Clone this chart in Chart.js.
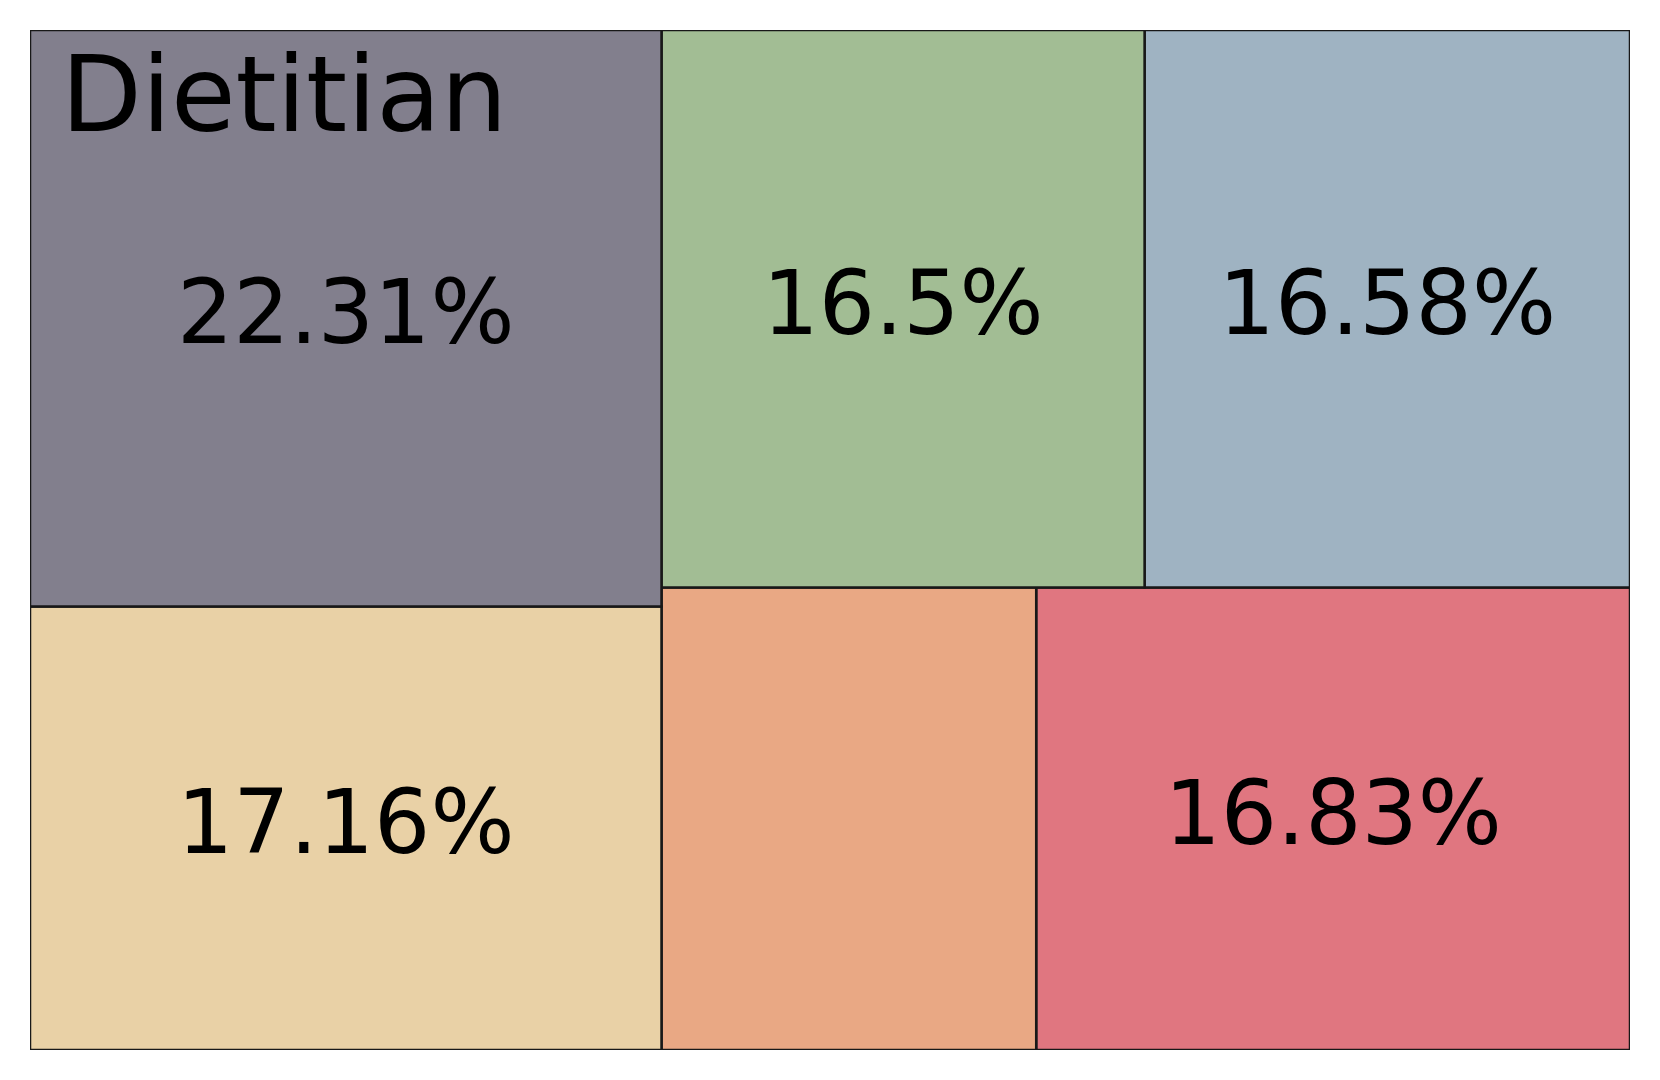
<!DOCTYPE html>
<html>
<head>
<meta charset="utf-8">
<script src="https://cdn.jsdelivr.net/npm/chart.js@4"></script>
<style>
  body { margin: 0; background: #fff; }
</style>
</head>
<body>
<canvas id="myChart" width="1660" height="1080"></canvas>
<script>
// cell data, in the order the treemap lays them out
const names = ['Dietitian', '', '', '', '', ''];
const shares = [22.31, 17.16, 16.5, 16.58, 10.62, 16.83];
const valueLabels = ['22.31%', '17.16%', '16.5%', '16.58%', '', '16.83%'];
const colors = ['#827f8d', '#e9d1a6', '#a2bd94', '#9fb3c2', '#e9a884', '#e07680'];

// squarify layout (same algorithm as the python squarify package)
function layoutrow(sizes, x, y, dx, dy) {
  const width = sizes.reduce((a, b) => a + b, 0) / dy;
  return sizes.map(s => { const r = {x: x, y: y, dx: width, dy: s / width}; y += s / width; return r; });
}
function layoutcol(sizes, x, y, dx, dy) {
  const height = sizes.reduce((a, b) => a + b, 0) / dx;
  return sizes.map(s => { const r = {x: x, y: y, dx: s / height, dy: height}; x += s / height; return r; });
}
function layout(sizes, x, y, dx, dy) {
  return dx >= dy ? layoutrow(sizes, x, y, dx, dy) : layoutcol(sizes, x, y, dx, dy);
}
function leftover(sizes, x, y, dx, dy) {
  const covered = sizes.reduce((a, b) => a + b, 0);
  if (dx >= dy) { const w = covered / dy; return [x + w, y, dx - w, dy]; }
  const h = covered / dx;
  return [x, y + h, dx, dy - h];
}
function worstRatio(sizes, x, y, dx, dy) {
  return Math.max(...layout(sizes, x, y, dx, dy).map(r => Math.max(r.dx / r.dy, r.dy / r.dx)));
}
function squarify(sizes, x, y, dx, dy) {
  if (sizes.length === 0) return [];
  if (sizes.length === 1) return layout(sizes, x, y, dx, dy);
  let i = 1;
  while (i < sizes.length && worstRatio(sizes.slice(0, i), x, y, dx, dy) >= worstRatio(sizes.slice(0, i + 1), x, y, dx, dy)) i++;
  const current = sizes.slice(0, i);
  const rest = leftover(current, x, y, dx, dy);
  return layout(current, x, y, dx, dy).concat(squarify(sizes.slice(i), ...rest));
}

const total = shares.reduce((a, b) => a + b, 0);
const rects = squarify(shares.map(s => s * 100 * 100 / total), 0, 0, 100, 100);

const datasets = rects.map((r, i) => ({
  label: names[i],
  data: [
    {x: r.x, y: r.y}, {x: r.x + r.dx, y: r.y},
    {x: r.x + r.dx, y: r.y + r.dy}, {x: r.x, y: r.y + r.dy}, {x: r.x, y: r.y}
  ],
  backgroundColor: colors[i],
  borderColor: '#181818',
  borderWidth: 2.5,
  fill: 'shape',
  pointRadius: 0,
  tension: 0
}));

// text inside the cells
const cellLabels = {
  id: 'cellLabels',
  afterDatasetsDraw(chart) {
    const c = chart.ctx;
    const xs = chart.scales.x, ys = chart.scales.y;
    c.save();
    c.fillStyle = '#000';
    rects.forEach((r, i) => {
      const left = xs.getPixelForValue(r.x), right = xs.getPixelForValue(r.x + r.dx);
      const top = ys.getPixelForValue(r.y), bottom = ys.getPixelForValue(r.y + r.dy);
      if (valueLabels[i]) {
        c.font = '88.5px "DejaVu Sans"';
        c.textAlign = 'center';
        c.textBaseline = 'alphabetic';
        c.fillText(valueLabels[i], (left + right) / 2, (top + bottom) / 2 + 25);
      }
      if (names[i]) {
        c.font = '105px "DejaVu Sans"';
        c.textAlign = 'left';
        c.textBaseline = 'alphabetic';
        c.fillText(names[i], left + 31, top + 101);
      }
    });
    c.restore();
  }
};

const ctx = document.getElementById('myChart').getContext('2d');
new Chart(ctx, {
  type: 'line',
  data: { datasets: datasets },
  options: {
    responsive: false,
    animation: false,
    events: [],
    layout: { padding: { left: 30, top: 30, right: 30, bottom: 30 } },
    scales: {
      x: { type: 'linear', min: 0, max: 100, display: false },
      y: { type: 'linear', min: 0, max: 100, reverse: true, display: false }
    },
    plugins: {
      legend: { display: false },
      tooltip: { enabled: false }
    }
  },
  plugins: [cellLabels]
});
</script>
</body>
</html>
